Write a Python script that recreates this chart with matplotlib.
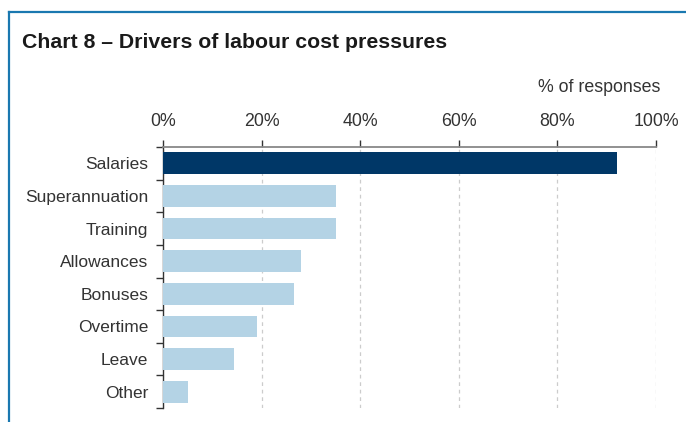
import matplotlib
matplotlib.use("Agg")
import matplotlib.pyplot as plt
from matplotlib.lines import Line2D
import numpy as np

categories = ["Salaries", "Superannuation", "Training", "Allowances",
              "Bonuses", "Overtime", "Leave", "Other"]
values = [92, 35, 35, 28, 26.5, 19, 14.5, 5]
xticks = [0, 20, 40, 60, 80, 100]
xticklabels = ["0%", "20%", "40%", "60%", "80%", "100%"]

plt.rcParams['font.family'] = ['Liberation Sans', 'DejaVu Sans']

fig = plt.figure(figsize=(6.86, 4.22), dpi=100)
W, H = 686, 422
ax = fig.add_axes([163 / W, 1 - 408 / H, (656 - 163) / W, (408 - 147) / H])

y = np.arange(len(categories))
colors = ["#003767"] + ["#b4d3e5"] * (len(categories) - 1)
ax.barh(y, values, height=0.67, color=colors, zorder=3)
ax.set_ylim(len(categories) - 0.5, -0.5)
ax.set_xlim(0, 100)

ax.set_yticks(y)
ax.set_yticklabels(categories, fontsize=12.5, color="#333333")
ax.set_yticks(np.arange(-0.5, len(categories), 1), minor=True)
ax.tick_params(axis="y", which="major", length=0, pad=10.5)
ax.tick_params(axis="y", which="minor", length=5, width=1, color="#333333", direction="out")

ax.xaxis.tick_top()
ax.set_xticks(xticks)
ax.set_xticklabels(xticklabels, fontsize=12.8, color="#333333")
ax.tick_params(axis="x", which="major", length=5, width=1, color="#333333", pad=7.5)

ax.grid(axis="x", linestyle=(0, (3, 3)), color="#cccccc", linewidth=0.9, zorder=0)

for s in ["right", "bottom"]:
    ax.spines[s].set_visible(False)
ax.spines["top"].set_color("#888888")
ax.spines["top"].set_linewidth(1.3)
ax.spines["left"].set_color("#333333")
ax.spines["left"].set_linewidth(1.0)

fig.text(22 / W, 1 - 43 / H, "Chart 8 – Drivers of labour cost pressures",
         fontsize=15.3, fontweight="bold", color="#1a1a1a", va="center", ha="left")
fig.text(660 / W, 1 - 88 / H, "% of responses", fontsize=12.8, color="#333333",
         va="center", ha="right")

# frame
fig.add_artist(Line2D([9 / W, 1], [1 - 12 / H, 1 - 12 / H], color="#1a78b0", lw=1.6,
                      transform=fig.transFigure))
fig.add_artist(Line2D([9 / W, 9 / W], [1 - 12 / H, 0], color="#1a78b0", lw=1.6,
                      transform=fig.transFigure))

fig.savefig("out.png", dpi=100)
